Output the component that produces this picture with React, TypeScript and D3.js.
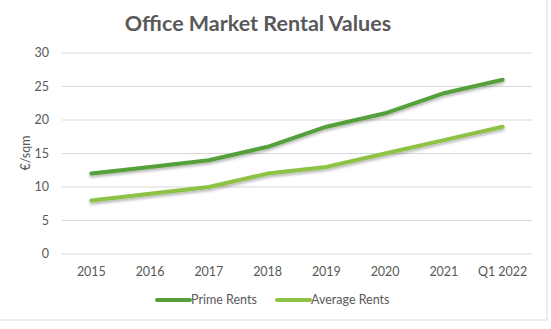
import React from "react";
import * as d3 from "d3";

const categories = ["2015", "2016", "2017", "2018", "2019", "2020", "2021", "Q1 2022"];
const primeRents = [12, 13, 14, 16, 19, 21, 24, 26];
const averageRents = [8, 9, 10, 12, 13, 15, 17, 19];
const yTicks = [0, 5, 10, 15, 20, 25, 30];
const seriesNames = ["Prime Rents", "Average Rents"];
const seriesColors = ["#55a03a", "#8dc245"];

const W = 551, H = 329;
const M = { left: 62, right: 532, top: 53, bottom: 254 };
const FONT = "Lato, 'Open Sans', sans-serif";

export default function App() {
  const x = d3.scaleBand<string>().domain(categories).range([M.left, M.right]);
  const y = d3.scaleLinear().domain([0, 30]).range([M.bottom, M.top]);
  const line = d3
    .line<number>()
    .x((_, i) => (x(categories[i]) as number) + x.bandwidth() / 2)
    .y((d) => y(d));
  const series = [primeRents, averageRents];
  const legendX = [157, 277];

  return (
    <svg
      width={W}
      height={H}
      style={{ position: "absolute", left: 0, top: 0, background: "#fff" }}
    >
      <defs>
        <filter id="sh" x="-10%" y="-50%" width="120%" height="200%">
          <feDropShadow dx="0" dy="2" stdDeviation="1.5" floodColor="#000" floodOpacity="0.3" />
        </filter>
      </defs>
      <rect x={-1} y={-1} width={548} height={321} fill="#fff" stroke="#d9d9d9" strokeWidth={1} />
      <text
        x={258}
        y={31}
        textAnchor="middle"
        fontFamily={FONT}
        fontWeight="bold"
        fontSize={21.5}
        fill="#595959"
      >
        Office Market Rental Values
      </text>
      {yTicks.map((t) => (
        <g key={t}>
          <line x1={M.left} x2={M.right} y1={y(t)} y2={y(t)} stroke="#d9d9d9" strokeWidth={1} />
          <text
            x={49}
            y={y(t)}
            dy="0.35em"
            textAnchor="end"
            fontFamily={FONT}
            fontSize={12.5}
            fill="#595959"
          >
            {t}
          </text>
        </g>
      ))}
      {categories.map((c) => (
        <text
          key={c}
          x={(x(c) as number) + x.bandwidth() / 2}
          y={276}
          textAnchor="middle"
          fontFamily={FONT}
          fontSize={12.5}
          fill="#595959"
        >
          {c}
        </text>
      ))}
      <text
        transform={`translate(30,153) rotate(-90)`}
        textAnchor="middle"
        fontFamily={FONT}
        fontSize={12.5}
        fill="#595959"
      >
        €/sqm
      </text>
      {series.map((s, i) => (
        <path
          key={i}
          d={line(s) as string}
          fill="none"
          stroke={seriesColors[i]}
          strokeWidth={4}
          strokeLinecap="round"
          strokeLinejoin="round"
          filter="url(#sh)"
        />
      ))}
      {seriesNames.map((n, i) => (
        <g key={n}>
          <line
            x1={legendX[i]}
            x2={legendX[i] + 33}
            y1={300}
            y2={300}
            stroke={seriesColors[i]}
            strokeWidth={4}
            strokeLinecap="round"
          />
          <text
            x={legendX[i] + 34}
            y={300}
            dy="0.35em"
            fontFamily={FONT}
            fontSize={12.5}
            fill="#595959"
          >
            {n}
          </text>
        </g>
      ))}
    </svg>
  );
}
